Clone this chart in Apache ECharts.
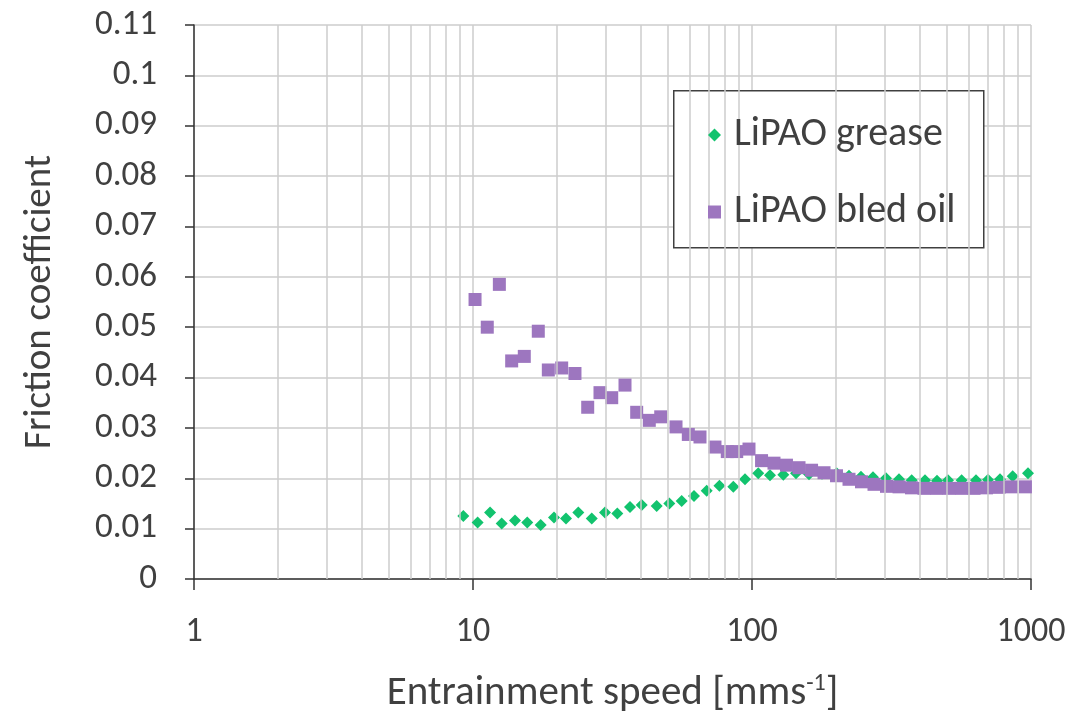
<!DOCTYPE html>
<html>
<head>
<meta charset="utf-8">
<script src="https://cdn.jsdelivr.net/npm/echarts@6/dist/echarts.min.js"></script>
<style>
html,body{margin:0;padding:0;background:#fff;}
#chart{width:1090px;height:717px;}
</style>
</head>
<body>
<div id="chart"></div>
<script>
// Green: LiPAO grease
const greaseX = [9.23,10.39,11.51,12.67,14.14,15.65,17.48,19.51,21.54,23.85,26.64,29.72,32.90,36.53,40.24,45.54,50.53,55.98,61.97,68.81,76.45,85.70,94.38,105.3,116.0,129.5,143.8,160.1,178.2,201.2,222.7,245.8,271.5,302.2,336.5,373.6,417.0,460.3,504.1,564.2,635.2,701.4,774.4,859.9,975.4];
const greaseY = [0.0125,0.0112,0.0132,0.0110,0.0116,0.0112,0.0107,0.0122,0.0120,0.0132,0.0120,0.0132,0.0130,0.0143,0.0147,0.0145,0.0150,0.0155,0.0165,0.0175,0.0185,0.0183,0.0198,0.0210,0.0206,0.0207,0.0210,0.0208,0.0209,0.0210,0.0205,0.0203,0.0202,0.0200,0.0198,0.0196,0.0196,0.0195,0.0196,0.0196,0.0196,0.0197,0.0198,0.0204,0.0210];
// Purple: LiPAO bled oil
const oilX = [10.17,11.25,12.43,13.76,15.27,17.14,18.62,20.79,23.20,25.77,28.52,31.42,35.06,38.61,42.84,47.08,53.41,59.12,65.10,73.67,81.55,88.15,97.55,108.2,119.9,132.9,147.4,163.5,181.2,200.9,222.7,246.9,273.7,303.4,336.5,373.0,413.6,458.4,508.3,563.5,624.8,692.7,768.0,851.4,955.0];
const oilY = [0.0555,0.0500,0.0585,0.0433,0.0442,0.0492,0.0415,0.0419,0.0408,0.0341,0.0370,0.0360,0.0385,0.0331,0.0315,0.0322,0.0302,0.0287,0.0282,0.0262,0.0253,0.0253,0.0258,0.0235,0.0230,0.0226,0.0221,0.0216,0.0211,0.0205,0.0198,0.0193,0.0188,0.0184,0.0183,0.0181,0.0180,0.0180,0.0180,0.0180,0.0180,0.0181,0.0182,0.0183,0.0183];
// Minor log gridline positions
const minorX = [2,3,4,5,6,7,8,9,20,30,40,50,60,70,80,90,200,300,400,500,600,700,800,900];
const seriesNames = ['LiPAO grease','LiPAO bled oil'];
const xTitle = 'Entrainment speed [mms{sup|-1}]';
const yTitle = 'Friction coefficient';

const FONT = 'Carlito, Lato, sans-serif';
const TXT = '#404040';
const GRID = '#cccccc';

const chart = echarts.init(document.getElementById('chart'), null, {renderer:'canvas'});
chart.setOption({
  animation:false,
  backgroundColor:'#fff',
  textStyle:{fontFamily:FONT},
  grid:{left:194,right:59,top:25,bottom:138,containLabel:false,outerBoundsMode:'none'},
  xAxis:{
    type:'log', logBase:10, min:1, max:1000,
    axisLine:{show:true,onZero:false,lineStyle:{color:'#333',width:1.5}},
    axisTick:{show:true,inside:false,length:11,lineStyle:{color:'#333',width:1.5}},
    axisLabel:{fontSize:34,color:TXT,margin:36,fontFamily:FONT,formatter:v=>String(v)},
    splitLine:{show:true,lineStyle:{color:GRID,width:1.5}},
    name:xTitle, nameLocation:'middle', nameGap:93,
    nameTextStyle:{fontSize:41,color:TXT,fontFamily:FONT,
      rich:{sup:{fontSize:24,verticalAlign:'top',padding:[0,0,20,0],color:TXT,fontFamily:FONT}}}
  },
  yAxis:{
    type:'value', min:0, max:0.11, interval:0.01,
    axisLine:{show:true,lineStyle:{color:'#333',width:1.5}},
    axisTick:{show:true,inside:false,length:9,lineStyle:{color:'#333',width:1.5}},
    axisLabel:{fontSize:35,color:TXT,margin:37,fontFamily:FONT},
    splitLine:{show:true,lineStyle:{color:GRID,width:1.5}},
    name:yTitle, nameLocation:'middle', nameGap:134, nameRotate:90,
    nameTextStyle:{fontSize:39,color:TXT,fontFamily:FONT}
  },
  legend:{
    show:true, orient:'vertical', left:703, top:110, itemGap:37,
    itemWidth:13, itemHeight:13,
    data:[{name:seriesNames[0],icon:'diamond'},{name:seriesNames[1],icon:'rect'}],
    textStyle:{fontSize:40,color:TXT,fontFamily:FONT,padding:[0,0,0,8]},
    z:10
  },
  graphic:[{
    type:'rect', left:673, top:90, z:5, silent:true,
    shape:{width:310,height:157},
    style:{fill:'#fff',stroke:'#404040',lineWidth:1.5}
  }],
  series:[
    {
      type:'scatter', name:'_minor', data:[], z:1, silent:true,
      markLine:{silent:true,symbol:['none','none'],label:{show:false},
        lineStyle:{color:GRID,width:1.5,type:'solid'},
        data:minorX.map(v=>({xAxis:v}))}
    },
    {
      type:'scatter', name:seriesNames[1], symbol:'rect', symbolSize:13, z:3,
      itemStyle:{color:'#9d76bf',opacity:1},
      data:oilX.map((x,i)=>[x,oilY[i]])
    },
    {
      type:'scatter', name:seriesNames[0], symbol:'diamond', symbolSize:12, z:2,
      itemStyle:{color:'#12c36e',opacity:1},
      data:greaseX.map((x,i)=>[x,greaseY[i]])
    }
  ]
});
</script>
</body>
</html>
